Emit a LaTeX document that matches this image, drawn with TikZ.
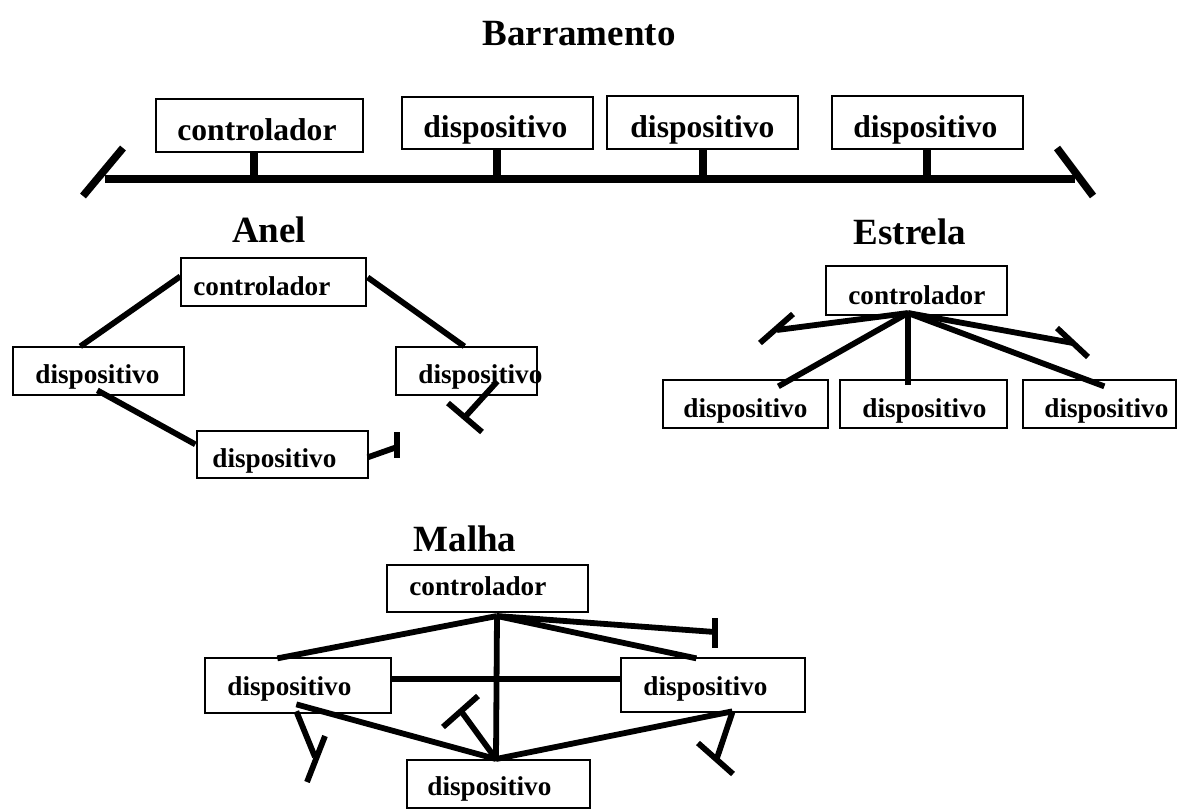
\documentclass[tikz,border=0pt]{standalone}
\usepackage{fontspec}
\setmainfont{Liberation Serif}
\usetikzlibrary{fit,calc}
\begin{document}
\begin{tikzpicture}[x=0.5pt,y=-0.5pt,
  box/.style={draw, line width=0.65pt, inner sep=0pt},
  lblA/.style={font=\fontsize{15.8}{18}\selectfont\bfseries, inner sep=0pt, anchor=base west},
  lblB/.style={font=\fontsize{13.6}{16}\selectfont\bfseries, inner sep=0pt, anchor=base west},
  ttl/.style={font=\fontsize{18.5}{22}\selectfont\bfseries, inner sep=0pt, anchor=base},
  busline/.style={line width=3.8pt},
  wire/.style={line width=2.9pt}]
\useasboundingbox (0,0) rectangle (1179,811);

% ---------------- Barramento ----------------
\node[ttl] (tbus) at (579,45) {Barramento};
\node[box, fit={(156,99) (363,152)}] (b1) {};
\node[box, fit={(402,97) (593,149)}] (b2) {};
\node[box, fit={(607,96) (798,149)}] (b3) {};
\node[box, fit={(832,96) (1023,149)}] (b4) {};
\node[lblA] (tb1) at (177,140) {controlador};
\node[lblA] (tb2) at (423,137) {dispositivo};
\node[lblA] (tb3) at (630,137) {dispositivo};
\node[lblA] (tb4) at (853,137) {dispositivo};
\coordinate (busL) at (105,179);
\coordinate (busR) at (1075,179);
\coordinate (s1) at (254,179);
\coordinate (s2) at (497,179);
\coordinate (s3) at (703,179);
\coordinate (s4) at (927,179);
\coordinate (tl1) at (83,196); \coordinate (tl2) at (123,148);
\coordinate (tr1) at (1057,148); \coordinate (tr2) at (1093,196);
\draw[busline] (busL) -- (busR);
\draw[busline] (tl1) -- (tl2);
\draw[busline] (tr1) -- (tr2);
\draw[busline] (b1.south -| s1) -- (s1);
\draw[busline] (b2.south -| s2) -- (s2);
\draw[busline] (b3.south -| s3) -- (s3);
\draw[busline] (b4.south -| s4) -- (s4);

% ---------------- Anel ----------------
\node[ttl] (tanel) at (269,242) {Anel};
\node[box, fit={(181,258) (366,306)}] (ac) {};
\node[box, fit={(13,347) (184,395)}] (ad1) {};
\node[box, fit={(396,347) (537,395)}] (ad2) {};
\node[box, fit={(197,431) (368,478)}] (ad3) {};
\node[lblB] (tac) at (193,295) {controlador};
\node[lblB] (tad1) at (35,383) {dispositivo};
\node[lblB] (tad2) at (418,383) {dispositivo};
\node[lblB] (tad3) at (212,467) {dispositivo};
\coordinate (aT1) at (397,447);
\coordinate (aT1a) at (397,432); \coordinate (aT1b) at (397,458);
\coordinate (aT2) at (465,417);
\coordinate (aT2a) at (448,403); \coordinate (aT2b) at (482,432);
\draw[wire] ($(ac.north west)+(0,19)$) -- ($(ad1.north west)+(68,0)$);
\draw[wire] ($(ac.north east)+(1,20)$) -- ($(ad2.north west)+(69,0)$);
\draw[wire] ($(ad1.north west)+(85,44)$) -- ($(ad3.north west)+(-1,14)$);
\draw[wire] ($(ad3.north east)+(-1,27)$) -- (aT1);
\draw[wire] (aT1a) -- (aT1b);
\draw[wire] ($(ad2.north west)+(102,35)$) -- (aT2);
\draw[wire] (aT2a) -- (aT2b);

% ---------------- Estrela ----------------
\node[ttl] (test) at (910,244) {Estrela};
\node[box, fit={(826,266) (1007,315)}] (ec) {};
\node[box, fit={(663,380) (828,428)}] (ed1) {};
\node[box, fit={(840,380) (1007,428)}] (ed2) {};
\node[box, fit={(1023,380) (1176,428)}] (ed3) {};
\node[lblB] (tec) at (848,304) {controlador};
\node[lblB] (ted1) at (683,417) {dispositivo};
\node[lblB] (ted2) at (862,417) {dispositivo};
\node[lblB] (ted3) at (1044,417) {dispositivo};
\coordinate (eh) at (908,313);
\coordinate (eT1) at (777,330);
\coordinate (eT1a) at (760,343); \coordinate (eT1b) at (793,314);
\coordinate (eT2) at (1073,343);
\coordinate (eT2a) at (1057,328); \coordinate (eT2b) at (1088,357);
\draw[wire] (eh) -- ($(ed1.north west)+(116,7)$);
\draw[wire] (eh) -- (eh |- ed2.north) -- +(0,6);
\draw[wire] (eh) -- ($(ed3.north west)+(82,7)$);
\draw[wire] (eh) -- (eT1);
\draw[wire] (eT1a) -- (eT1b);
\draw[wire] (eh) -- (eT2);
\draw[wire] (eT2a) -- (eT2b);

% ---------------- Malha ----------------
\node[ttl] (tmal) at (465,551) {Malha};
\node[box, fit={(387,565) (588,612)}] (mc) {};
\node[box, fit={(205,658) (391,713)}] (md1) {};
\node[box, fit={(621,658) (805,712)}] (md2) {};
\node[box, fit={(407,760) (590,808)}] (md3) {};
\node[lblB] (tmc) at (409,595) {controlador};
\node[lblB] (tmd1) at (227,695) {dispositivo};
\node[lblB] (tmd2) at (643,695) {dispositivo};
\node[lblB] (tmd3) at (427,795) {dispositivo};
\coordinate (mh) at (497,616);
\coordinate (mb) at (496,759);
\coordinate (mT1) at (715,632);
\coordinate (mT1a) at (715,618); \coordinate (mT1b) at (715,648);
\coordinate (mT2) at (461,711);
\coordinate (mT2a) at (443,727); \coordinate (mT2b) at (478,696);
\coordinate (mT3) at (315,757);
\coordinate (mT3a) at (325,736); \coordinate (mT3b) at (307,782);
\coordinate (mT4) at (717,758);
\coordinate (mT4a) at (698,743); \coordinate (mT4b) at (733,774);
\draw[wire] (mh) -- ($(md1.north west)+(73,1)$);
\draw[wire] (mh) -- ($(md2.north west)+(76,1)$);
\draw[wire] (mh) -- (mT1);
\draw[wire] (mT1a) -- (mT1b);
\draw[wire] (mh) -- (mb);
\draw[wire] ($(md1.north east)+(0,22)$) -- ($(md2.north west)+(2,22)$);
\draw[wire] ($(md1.north west)+(92,47)$) -- (mb);
\draw[wire] ($(md2.north west)+(112,54)$) -- (mb);
\draw[wire] (mb) -- (mT2);
\draw[wire] (mT2a) -- (mT2b);
\draw[wire] ($(md1.north west)+(92,54)$) -- (mT3);
\draw[wire] (mT3a) -- (mT3b);
\draw[wire] ($(md2.north west)+(112,55)$) -- (mT4);
\draw[wire] (mT4a) -- (mT4b);
\end{tikzpicture}
\end{document}
